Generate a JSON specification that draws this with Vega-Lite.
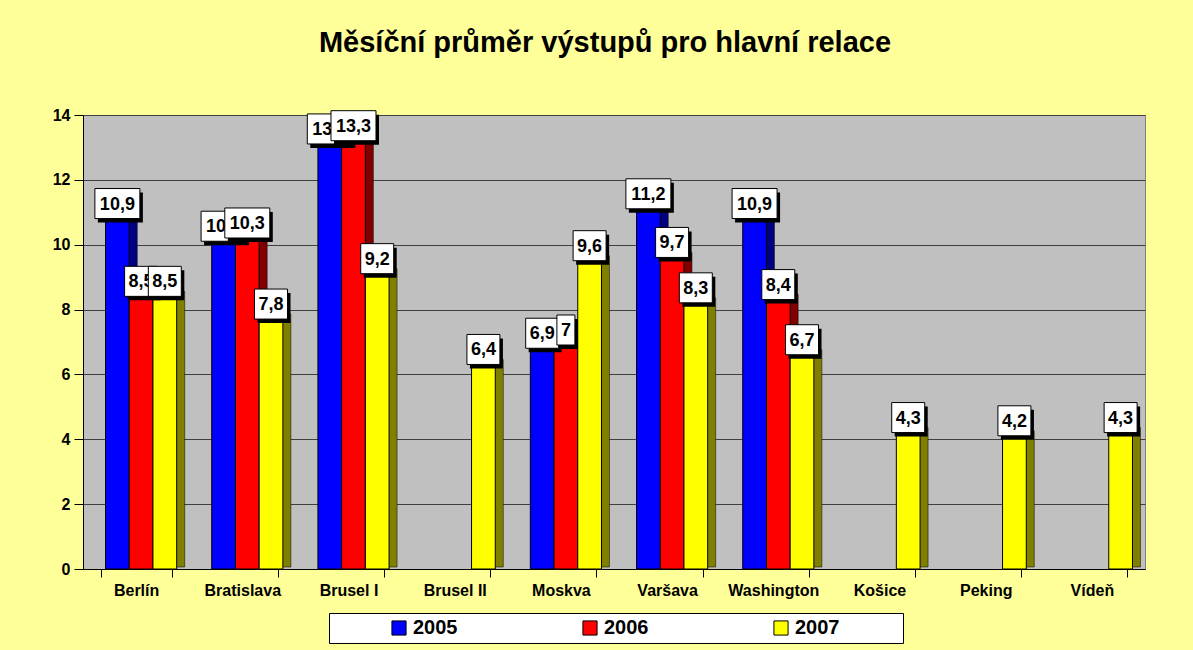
{
  "$schema": "https://vega.github.io/schema/vega-lite/v6.json",
  "width": 1062,
  "height": 454,
  "autosize": {"type": "none"},
  "padding": {"left": 83, "top": 115, "right": 48, "bottom": 81},
  "background": "#FFFF99",
  "config": {
    "locale": {"number": {"decimal": ",", "thousands": " ", "grouping": [3], "currency": ["", " Kč"]}},
    "view": {"fill": "#C0C0C0", "stroke": "#808080"},
    "font": "Liberation Sans"
  },
  "title": {
    "text": "Měsíční průměr výstupů pro hlavní relace",
    "font": "Liberation Sans",
    "fontSize": 29,
    "fontWeight": "bold",
    "color": "black",
    "anchor": "middle",
    "frame": "group",
    "baseline": "alphabetic",
    "dx": -9,
    "offset": 26
  },
  "data": {
    "values": [
      {"city": "Berlín", "year": "2005", "value": 10.9},
      {"city": "Berlín", "year": "2006", "value": 8.5},
      {"city": "Berlín", "year": "2007", "value": 8.5},
      {"city": "Bratislava", "year": "2005", "value": 10.2},
      {"city": "Bratislava", "year": "2006", "value": 10.3},
      {"city": "Bratislava", "year": "2007", "value": 7.8},
      {"city": "Brusel I", "year": "2005", "value": 13.2},
      {"city": "Brusel I", "year": "2006", "value": 13.3},
      {"city": "Brusel I", "year": "2007", "value": 9.2},
      {"city": "Brusel II", "year": "2007", "value": 6.4},
      {"city": "Moskva", "year": "2005", "value": 6.9},
      {"city": "Moskva", "year": "2006", "value": 7},
      {"city": "Moskva", "year": "2007", "value": 9.6},
      {"city": "Varšava", "year": "2005", "value": 11.2},
      {"city": "Varšava", "year": "2006", "value": 9.7},
      {"city": "Varšava", "year": "2007", "value": 8.3},
      {"city": "Washington", "year": "2005", "value": 10.9},
      {"city": "Washington", "year": "2006", "value": 8.4},
      {"city": "Washington", "year": "2007", "value": 6.7},
      {"city": "Košice", "year": "2007", "value": 4.3},
      {"city": "Peking", "year": "2007", "value": 4.2},
      {"city": "Vídeň", "year": "2007", "value": 4.3}
    ]
  },
  "encoding": {
    "x": {
      "field": "city",
      "type": "nominal",
      "sort": ["Berlín", "Bratislava", "Brusel I", "Brusel II", "Moskva", "Varšava", "Washington", "Košice", "Peking", "Vídeň"],
      "scale": {"paddingInner": 0.33, "paddingOuter": 0.165},
      "axis": {
        "title": null,
        "labelAngle": 0,
        "labelFontSize": 16,
        "labelFontWeight": "bold",
        "labelColor": "black",
        "labelPadding": 5,
        "tickBand": "extent",
        "tickSize": 8,
        "tickColor": "black",
        "domainColor": "black",
        "grid": false
      }
    },
    "xOffset": {"field": "year", "type": "nominal", "scale": {"domain": ["2005", "2006", "2007"], "range": [5, 76.15]}},
    "y": {
      "field": "value",
      "type": "quantitative",
      "scale": {"domain": [0, 14], "nice": false},
      "axis": {
        "title": null,
        "values": [0, 2, 4, 6, 8, 10, 12, 14],
        "labelFontSize": 16,
        "labelFontWeight": "bold",
        "labelColor": "black",
        "labelPadding": 4,
        "tickSize": 9,
        "tickColor": "black",
        "domainColor": "black",
        "grid": true,
        "gridColor": "#404040",
        "gridWidth": 1
      }
    }
  },
  "resolve": {"scale": {"xOffset": "independent"}},
  "layer": [
    {
      "mark": {"type": "bar", "yOffset": -2, "stroke": "black", "strokeWidth": 0.5},
      "encoding": {
        "xOffset": {"field": "year", "type": "nominal", "scale": {"domain": ["2005", "2006", "2007"], "range": [13, 84.15]}},
        "fill": {
          "condition": [
            {"test": "datum.year == '2005'", "value": "#000080"},
            {"test": "datum.year == '2006'", "value": "#800000"}
          ],
          "value": "#808000"
        }
      }
    },
    {
      "mark": {"type": "bar", "stroke": "black", "strokeWidth": 1},
      "encoding": {
        "color": {
          "field": "year",
          "type": "nominal",
          "scale": {"domain": ["2005", "2006", "2007"], "range": ["#0000FF", "#FF0000", "#FFFF00"]},
          "legend": {
            "orient": "none",
            "legendX": 246,
            "legendY": 498,
            "direction": "horizontal",
            "columns": 3,
            "title": ".",
            "titleOrient": "right",
            "titleColor": "white",
            "titleFontSize": 4,
            "titlePadding": 57,
            "fillColor": "white",
            "strokeColor": "black",
            "padding": 5,
            "symbolType": "square",
            "symbolSize": 200,
            "symbolStrokeColor": "black",
            "symbolStrokeWidth": 1,
            "symbolOpacity": 1,
            "labelFontSize": 20,
            "labelFontWeight": "bold",
            "labelColor": "black",
            "labelOffset": 4,
            "symbolOffset": 55,
            "columnPadding": 67
          }
        }
      }
    },
    {
      "transform": [{"filter": "datum.year == '2005'"}],
      "layer": [
        {
          "mark": {"type": "point", "filled": true, "fill": "black", "strokeWidth": 0, "opacity": 1, "size": 2025, "yOffset": -12},
          "encoding": {
            "shape": {
              "condition": [
                {"test": "datum.value == 7", "value": "M-0.267,-0.489L0.533,-0.489L0.533,0.845L-0.267,0.845Z"},
                {"test": "datum.value >= 10", "value": "M-0.867,-0.489L1.133,-0.489L1.133,0.845L-0.867,0.845Z"}
              ],
              "value": "M-0.6,-0.489L0.867,-0.489L0.867,0.845L-0.6,0.845Z"
            }
          }
        },
        {
          "mark": {"type": "point", "filled": true, "fill": "white", "stroke": "black", "strokeWidth": 1, "opacity": 1, "size": 2025, "yOffset": -12},
          "encoding": {
            "shape": {
              "condition": [
                {"test": "datum.value == 7", "value": "M-0.4,-0.667L0.4,-0.667L0.4,0.667L-0.4,0.667Z"},
                {"test": "datum.value >= 10", "value": "M-1,-0.667L1,-0.667L1,0.667L-1,0.667Z"}
              ],
              "value": "M-0.733,-0.667L0.733,-0.667L0.733,0.667L-0.733,0.667Z"
            }
          }
        },
        {
          "mark": {"type": "text", "fontSize": 18, "fontWeight": "bold", "color": "black", "baseline": "middle", "align": "center", "yOffset": -11},
          "encoding": {"text": {"field": "value", "type": "quantitative", "format": ".1~f"}}
        }
      ]
    },
    {
      "transform": [{"filter": "datum.year == '2006'"}],
      "layer": [
        {
          "mark": {"type": "point", "filled": true, "fill": "black", "strokeWidth": 0, "opacity": 1, "size": 2025, "yOffset": -12},
          "encoding": {
            "shape": {
              "condition": [
                {"test": "datum.value == 7", "value": "M-0.267,-0.489L0.533,-0.489L0.533,0.845L-0.267,0.845Z"},
                {"test": "datum.value >= 10", "value": "M-0.867,-0.489L1.133,-0.489L1.133,0.845L-0.867,0.845Z"}
              ],
              "value": "M-0.6,-0.489L0.867,-0.489L0.867,0.845L-0.6,0.845Z"
            }
          }
        },
        {
          "mark": {"type": "point", "filled": true, "fill": "white", "stroke": "black", "strokeWidth": 1, "opacity": 1, "size": 2025, "yOffset": -12},
          "encoding": {
            "shape": {
              "condition": [
                {"test": "datum.value == 7", "value": "M-0.4,-0.667L0.4,-0.667L0.4,0.667L-0.4,0.667Z"},
                {"test": "datum.value >= 10", "value": "M-1,-0.667L1,-0.667L1,0.667L-1,0.667Z"}
              ],
              "value": "M-0.733,-0.667L0.733,-0.667L0.733,0.667L-0.733,0.667Z"
            }
          }
        },
        {
          "mark": {"type": "text", "fontSize": 18, "fontWeight": "bold", "color": "black", "baseline": "middle", "align": "center", "yOffset": -11},
          "encoding": {"text": {"field": "value", "type": "quantitative", "format": ".1~f"}}
        }
      ]
    },
    {
      "transform": [{"filter": "datum.year == '2007'"}],
      "layer": [
        {
          "mark": {"type": "point", "filled": true, "fill": "black", "strokeWidth": 0, "opacity": 1, "size": 2025, "yOffset": -12},
          "encoding": {
            "shape": {
              "condition": [
                {"test": "datum.value == 7", "value": "M-0.267,-0.489L0.533,-0.489L0.533,0.845L-0.267,0.845Z"},
                {"test": "datum.value >= 10", "value": "M-0.867,-0.489L1.133,-0.489L1.133,0.845L-0.867,0.845Z"}
              ],
              "value": "M-0.6,-0.489L0.867,-0.489L0.867,0.845L-0.6,0.845Z"
            }
          }
        },
        {
          "mark": {"type": "point", "filled": true, "fill": "white", "stroke": "black", "strokeWidth": 1, "opacity": 1, "size": 2025, "yOffset": -12},
          "encoding": {
            "shape": {
              "condition": [
                {"test": "datum.value == 7", "value": "M-0.4,-0.667L0.4,-0.667L0.4,0.667L-0.4,0.667Z"},
                {"test": "datum.value >= 10", "value": "M-1,-0.667L1,-0.667L1,0.667L-1,0.667Z"}
              ],
              "value": "M-0.733,-0.667L0.733,-0.667L0.733,0.667L-0.733,0.667Z"
            }
          }
        },
        {
          "mark": {"type": "text", "fontSize": 18, "fontWeight": "bold", "color": "black", "baseline": "middle", "align": "center", "yOffset": -11},
          "encoding": {"text": {"field": "value", "type": "quantitative", "format": ".1~f"}}
        }
      ]
    }
  ]
}
